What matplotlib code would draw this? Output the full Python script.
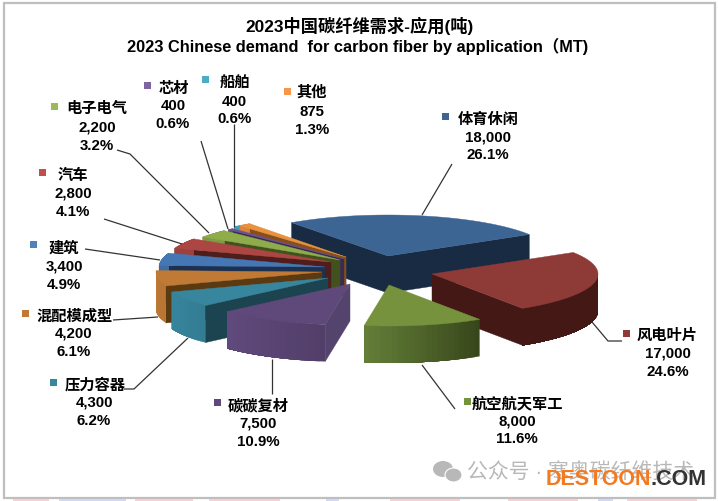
import numpy as np
import matplotlib
matplotlib.use('Agg')
import matplotlib.pyplot as plt
from matplotlib.patches import Polygon, Rectangle, Ellipse

fonts = ['Liberation Sans', 'Noto Sans CJK SC', 'DejaVu Sans']
plt.rcParams['font.family'] = fonts

# name, value, pct label, offset of slice tip from pie centre, top colour, radial wall colour, outer wall start/end
slices = [
    ('体育休闲', 18000, '26.1%', (48, -8), '#3D6594', '#182B42', '#182B42', '#182B42'),
    ('风电叶片', 17000, '24.6%', (92, 10), '#8E3B38', '#431815', '#431815', '#431815'),
    ('航空航天军工', 8000, '11.6%', (49, 21), '#76923C', '#5F7530', '#38471B', '#65803A'),
    ('碳碳复材', 7500, '10.9%', (10, 20), '#5F497A', '#54436C', '#523F69', '#614A7E'),
    ('压力容器', 4300, '6.2%', (-12, 14), '#37869E', '#1B4350', '#337D93', '#37869E'),
    ('混配模成型', 4200, '6.1%', (-18, 8), '#C07A36', '#5B3A12', '#B87433', '#BF7B37'),
    ('建筑', 3400, '4.9%', (-15, 3), '#4577B4', '#1C3050', '#3F6CA3', '#3F6CA3'),
    ('汽车', 2800, '4.1%', (-9, -2), '#AB4643', '#4F1D1B', '#9E403D', '#9E403D'),
    ('电子电气', 2200, '3.2%', (0, -4), '#8EAD4A', '#42521F', '#7F9B42', '#7F9B42'),
    ('芯材', 400, '0.6%', (4, -5), '#6B5290', '#3A2B52', '#5F4A80', '#5F4A80'),
    ('船舶', 400, '0.6%', (6, -7), '#3AA0BC', '#1E5563', '#3AA0BC', '#3AA0BC'),
    ('其他', 875, '1.3%', (6, -7), '#E8913F', '#8A4F16', '#D9843A', '#D9843A'),
]

# label position: name centre x, y of first line, marker x, y, centre x of value lines, line gap, marker colour
labels = {
    '体育休闲': (488, 120, 445, 117, 488, 17.5, '#3D6594'),
    '风电叶片': (667, 336, 626, 334, 668, 18, '#8E3B38'),
    '航空航天军工': (517, 404, 467, 402, 517, 17.5, '#76923C'),
    '碳碳复材': (258, 406, 217, 403, 258, 18, '#5F497A'),
    '压力容器': (95, 385, 53, 383, 94, 18, '#37869E'),
    '混配模成型': (75, 316, 25, 314, 74, 18, '#C07A36'),
    '建筑': (64, 248, 33, 245, 64, 18.5, '#4F81BD'),
    '汽车': (73, 176, 42, 173, 73, 18, '#C0504D'),
    '电子电气': (97, 109, 54, 107, 97, 18.5, '#9BBB59'),
    '芯材': (174, 89, 147, 86, 173, 17.5, '#8064A2'),
    '船舶': (235, 84, 205, 80, 234, 17.5, '#4BACC6'),
    '其他': (312, 93, 287, 92, 312, 18.5, '#F79646'),
}

leaders = [
    [(422, 216), (452, 165)],
    [(592, 323), (608, 342), (622, 342)],
    [(422, 366), (455, 410)],
    [(272, 360), (272, 395)],
    [(188, 339), (134, 390), (124, 390)],
    [(158, 318), (113, 321)],
    [(160, 261), (85, 250)],
    [(182, 245), (104, 220)],
    [(209, 234), (130, 155), (117, 151)],
    [(228, 230), (201, 142)],
    [(234, 228), (234, 125)],
]

centre = (340, 265)
rx, ry, depth = 166, 41, 37
start_angle = -35.5


def lerp_colour(c1, c2, t):
    a = np.array(matplotlib.colors.to_rgb(c1))
    b = np.array(matplotlib.colors.to_rgb(c2))
    return tuple(a + (b - a) * t)


def arc(tip, a1, a2):
    th = np.radians(np.linspace(a1, a2, max(int(abs(a2 - a1)) + 2, 3)))
    return np.column_stack([tip[0] + rx * np.sin(th), tip[1] - ry * np.cos(th)])


def draw_slice(ax, tip, a1, a2, top, wall, outer1, outer2):
    # side walls first, then the rim, top face last
    for ang, show in ((a1, np.sin(np.radians(a1)) < 0), (a2, np.sin(np.radians(a2)) > 0)):
        if show:
            p = arc(tip, ang, ang + 0.01)[0]
            ax.add_patch(Polygon([tip, p, (p[0], p[1] + depth), (tip[0], tip[1] + depth)],
                                 fc=wall, ec=wall, lw=0.3))
    # each rim piece runs on to the slice end so no seams show between pieces
    steps = np.arange(a1, a2, 2.0).tolist()
    for a in steps:
        low = max(a, 90) if a < 270 else a
        high = min(a2, 270) if a < 270 else a2
        if low >= high:
            continue
        pts = arc(tip, low, high)
        col = lerp_colour(outer1, outer2, (a - a1) / (a2 - a1))
        poly = np.vstack([pts, (pts + [0, depth])[::-1]])
        ax.add_patch(Polygon(poly, fc=col, ec='none'))
    ax.add_patch(Polygon(np.vstack([[tip], arc(tip, a1, a2)]), fc=top, ec=top, lw=0.3))


fig = plt.figure(figsize=(7.18, 5.02), dpi=100)
ax = fig.add_axes([0, 0, 1, 1])
ax.set_xlim(0, 718)
ax.set_ylim(502, 0)
ax.axis('off')

# outer frame of the chart
ax.add_patch(Rectangle((3.5, 3.5), 711, 495, fc='white', ec='#BFBFBF', lw=1.6))

# bits of the page behind the screenshot, along the bottom edge
pink, blue = '#F9CFD5', '#CFD8F5'
for x0, x1, col in [(13, 49, pink), (59, 126, blue), (135, 193, pink), (209, 280, pink), (326, 339, blue),
                    (390, 460, pink), (508, 578, pink), (598, 613, blue), (627, 697, pink)]:
    ax.add_patch(Rectangle((x0, 500), x1 - x0, 2, fc=col, ec='none'))

total = sum(s[1] for s in slices)
angles = start_angle + np.concatenate([[0], np.cumsum([s[1] for s in slices])]) / total * 360

# paint from back to front
order = sorted(range(len(slices)), key=lambda i: centre[1] + slices[i][3][1])
for i in order:
    s = slices[i]
    tip = (centre[0] + s[3][0], centre[1] + s[3][1])
    draw_slice(ax, tip, angles[i], angles[i + 1], s[4], s[5], s[6], s[7])

for line in leaders:
    xs, ys = zip(*line)
    ax.plot(xs, ys, color='#333333', lw=0.9, solid_capstyle='butt')

for s in slices:
    name, value, pct = s[0], s[1], s[2]
    nx, ny, mx, my, vx, gap, mcol = labels[name]
    ax.add_patch(Rectangle((mx - 3.5, my - 3.5), 7, 7, fc=mcol, ec='none'))
    ax.text(nx, ny, name, ha='center', va='center', fontsize=11, fontweight='bold')
    ax.text(vx, ny + gap, f'{value:,}', ha='center', va='center', fontsize=10.8, fontweight='bold')
    ax.text(vx, ny + 2 * gap, pct, ha='center', va='center', fontsize=10.8, fontweight='bold')

ax.text(360, 26, '2023中国碳纤维需求-应用(吨)', ha='center', va='center', fontsize=12.4, fontweight='bold')
ax.text(358, 46, '2023 Chinese demand  for carbon fiber by application（MT)', ha='center', va='center',
        fontsize=11.8, fontweight='bold')

# watermark
ax.add_patch(Ellipse((443, 470), 20, 16, fc='#B8B8B8', ec='none'))
ax.add_patch(Ellipse((453.5, 476), 17, 14, fc='#B8B8B8', ec='white', lw=0.8))
ax.text(467, 472, '公众号 · 寒奥碳纤维技术', ha='left', va='center', fontsize=15, color='#B8B8B8')
ax.text(546, 480, 'DESTOON', ha='left', va='center', fontsize=15.5, fontweight='bold', color='#F47A20')
ax.text(650, 480, '.COM', ha='left', va='center', fontsize=15.5, fontweight='bold', color='#333333')

fig.savefig('out.png', dpi=100)
